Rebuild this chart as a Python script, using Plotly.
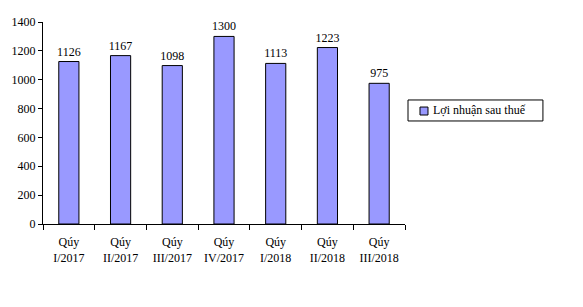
import plotly.graph_objects as go

categories = ["Qúy<br>I/2017", "Qúy<br>II/2017", "Qúy<br>III/2017", "Qúy<br>IV/2017",
              "Qúy<br>I/2018", "Qúy<br>II/2018", "Qúy<br>III/2018"]
values = [1126, 1167, 1098, 1300, 1113, 1223, 975]
series_name = "Lợi nhuận sau thuế"
y_ticks = [0, 200, 400, 600, 800, 1000, 1200, 1400]

font = "Liberation Serif"
bar_color = "#9999FF"

fig = go.Figure()
fig.add_trace(go.Bar(
    x=categories, y=values, name=series_name,
    marker=dict(color=bar_color, line=dict(color="black", width=1)),
    width=0.39,
    text=[str(v) for v in values], textposition="outside",
    textfont=dict(family=font, size=12, color="black"),
    outsidetextfont=dict(family=font, size=12, color="black"),
    constraintext="none",
    cliponaxis=False,
    showlegend=False,
))

# custom legend box (paper coordinates)
fig.add_shape(type="rect", xref="paper", yref="paper",
              x0=1.0083, x1=1.381, y0=0.51, y1=0.614,
              line=dict(color="black", width=1), fillcolor="white")
fig.add_shape(type="rect", xref="paper", yref="paper",
              x0=1.0414, x1=1.0635, y0=0.5396, y1=0.579,
              line=dict(color="black", width=1), fillcolor=bar_color)
fig.add_annotation(xref="paper", yref="paper", x=1.0718, y=0.562,
                   xanchor="left", yanchor="middle", showarrow=False,
                   text=series_name,
                   font=dict(family=font, size=12, color="black"))

fig.update_layout(
    width=583, height=307,
    margin=dict(l=43, r=178, t=22, b=83),
    paper_bgcolor="white", plot_bgcolor="white",
    font=dict(family=font, size=12, color="black"),
    showlegend=False,
)
fig.update_xaxes(showline=True, linecolor="black", linewidth=1,
                 ticks="outside", tickson="boundaries", ticklen=5, tickcolor="black",
                 ticklabelstandoff=7,
                 showgrid=False, tickfont=dict(family=font, size=12, color="black"))
fig.update_yaxes(range=[0, 1400], tickvals=y_ticks, showline=True, linecolor="black",
                 linewidth=1, ticks="outside", ticklen=4, tickcolor="black",
                 showgrid=False, zeroline=False,
                 tickfont=dict(family=font, size=12, color="black"))
fig.write_html("out.html")
